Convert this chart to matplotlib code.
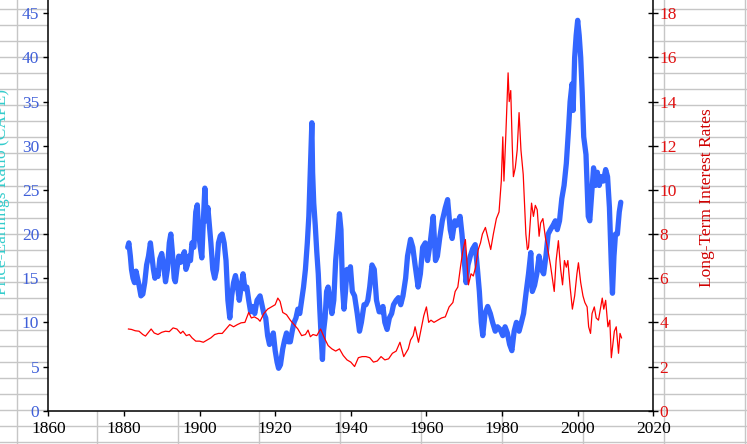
import numpy as np
import matplotlib
matplotlib.use("Agg")
import matplotlib.pyplot as plt

plt.rcParams['font.family'] = ['Liberation Serif', 'DejaVu Serif']

# ---- data ----
cape_years = [1881.0, 1881.3, 1881.7, 1882.0, 1882.4, 1882.8, 1883.2, 1883.6, 1884.0, 1884.5,
              1885.0, 1885.5, 1886.0, 1886.5, 1887.0, 1887.4, 1887.8, 1888.2, 1888.6, 1889.0,
              1889.5, 1890.0, 1890.5, 1891.0, 1891.5, 1892.0, 1892.4, 1892.8, 1893.3, 1893.6,
              1894.0, 1894.5, 1895.0, 1895.5, 1896.0, 1896.4, 1896.8, 1897.2, 1897.6, 1898.0,
              1898.5, 1899.0, 1899.4, 1899.8, 1900.2, 1900.6, 1901.0, 1901.4, 1901.8, 1902.2,
              1902.6, 1903.0, 1903.5, 1904.0, 1904.5, 1905.0, 1905.5, 1906.0, 1906.5, 1907.0,
              1907.5, 1908.0, 1908.5, 1909.0, 1909.5, 1910.0, 1910.5, 1911.0, 1911.5, 1912.0,
              1912.5, 1913.0, 1913.5, 1914.0, 1914.6, 1915.2, 1916.0, 1916.5, 1917.0, 1917.5,
              1918.0, 1918.5, 1919.0, 1919.5, 1920.0, 1920.5, 1920.9, 1921.4, 1922.0, 1922.5,
              1923.0, 1923.5, 1924.0, 1924.5, 1925.0, 1925.5, 1926.0, 1926.5, 1927.0, 1927.5,
              1928.0, 1928.5, 1928.9, 1929.3, 1929.7, 1929.9, 1930.2, 1930.6, 1931.0, 1931.4,
              1931.8, 1932.2, 1932.5, 1932.8, 1933.2, 1933.6, 1934.0, 1934.5, 1935.0, 1935.5,
              1936.0, 1936.5, 1937.0, 1937.4, 1937.8, 1938.2, 1938.6, 1939.0, 1939.4, 1939.9,
              1940.4, 1941.0, 1941.7, 1942.3, 1942.8, 1943.5, 1944.0, 1944.5, 1945.0, 1945.6,
              1946.2, 1946.8, 1947.5, 1948.0, 1948.5, 1949.0, 1949.6, 1950.2, 1950.8, 1951.3,
              1952.0, 1952.6, 1953.2, 1953.8, 1954.5, 1955.0, 1955.8, 1956.4, 1957.0, 1957.8,
              1958.4, 1959.0, 1959.7, 1960.3, 1961.0, 1961.8, 1962.4, 1962.9, 1963.5, 1964.2,
              1965.0, 1965.6, 1966.3, 1966.8, 1967.5, 1968.0, 1968.9, 1969.4, 1970.0, 1970.5,
              1971.0, 1971.6, 1972.2, 1972.9, 1973.5, 1974.0, 1974.5, 1974.9, 1975.5, 1976.2,
              1976.9, 1977.5, 1978.2, 1978.8, 1979.5, 1980.2, 1980.8, 1981.4, 1982.0, 1982.6,
              1983.2, 1983.8, 1984.5, 1985.0, 1985.7, 1986.4, 1987.0, 1987.6, 1988.0, 1988.6,
              1989.2, 1989.8, 1990.4, 1991.0, 1991.6, 1992.2, 1992.8, 1993.5, 1994.1, 1994.6,
              1995.2, 1995.8, 1996.4, 1997.0, 1997.6, 1998.0, 1998.5, 1998.8, 1999.2, 1999.6,
              2000.0, 2000.4, 2000.8, 2001.2, 2001.6, 2002.2, 2002.8, 2003.2, 2003.8, 2004.2,
              2004.7, 2005.2, 2005.7, 2006.2, 2006.8, 2007.4, 2007.9, 2008.4, 2008.9, 2009.2,
              2009.6, 2010.0, 2010.5, 2011.0, 2011.4]
cape_values = [18.5, 19.0, 17.5, 16.0, 15.0, 14.5, 15.8, 15.0, 14.2, 13.0,
               13.2, 14.5, 16.5, 17.5, 19.0, 17.5, 16.0, 15.0, 15.8, 15.2,
               17.2, 17.8, 16.5, 14.6, 16.0, 19.0, 20.0, 18.0, 15.0, 14.6,
               16.0, 17.5, 16.8, 17.5, 18.0, 16.0, 16.5, 17.5, 17.0, 19.0,
               18.5, 22.5, 23.3, 20.0, 18.5, 17.3, 21.5, 25.2, 21.5, 23.0,
               21.0, 19.0, 16.0, 15.0, 16.0, 19.0, 19.8, 20.0, 19.0, 17.0,
               12.5, 10.5, 13.0, 14.5, 15.3, 14.2, 12.5, 14.0, 15.5, 13.8,
               14.0, 12.5, 11.2, 11.8, 11.0, 12.5, 13.0, 12.0, 11.0, 10.5,
               8.5, 7.5, 8.0, 8.8, 6.8, 5.5, 4.8, 5.2, 7.0, 8.0,
               8.8, 7.8, 7.8, 9.0, 10.0, 10.5, 11.5, 11.0, 12.5, 14.0,
               16.0, 19.0, 22.0, 27.5, 32.6, 27.0, 23.5, 21.0, 18.0, 15.5,
               11.5, 8.0, 5.8, 9.0, 10.5, 13.5, 14.0, 12.5, 11.0, 12.5,
               17.0, 19.5, 22.3, 20.5, 14.0, 11.5, 13.5, 16.0, 15.0, 16.3,
               13.5, 13.0, 11.0, 9.0, 10.0, 12.0, 12.0, 12.5, 14.0, 16.5,
               16.0, 12.5, 11.2, 11.2, 11.8, 10.0, 9.2, 10.5, 11.0, 12.0,
               12.5, 12.8, 12.0, 13.0, 15.0, 17.5, 19.4, 18.5, 16.5, 14.0,
               15.5, 18.5, 19.0, 17.0, 19.0, 22.0, 17.0, 17.5, 19.5, 21.5,
               23.0, 23.9, 20.5, 19.5, 21.5, 21.0, 22.0, 20.0, 17.0, 14.5,
               16.5, 17.5, 18.3, 18.8, 16.0, 13.5, 10.0, 8.5, 11.0, 11.8,
               11.0, 10.0, 9.0, 9.5, 9.2, 8.5, 9.5, 8.8, 7.5, 6.8,
               9.0, 10.0, 9.0, 9.8, 11.0, 13.5, 15.5, 17.9, 13.5, 14.2,
               15.5, 17.5, 16.0, 15.5, 17.5, 20.0, 20.5, 21.0, 21.5, 20.5,
               21.5, 24.0, 25.5, 28.0, 32.0, 35.0, 37.0, 34.0, 40.0, 42.5,
               44.2, 42.5, 40.0, 36.0, 31.0, 29.0, 22.0, 21.5, 25.0, 27.5,
               25.5, 27.0, 25.5, 26.5, 26.0, 27.3, 26.5, 23.0, 16.5, 13.3,
               17.5, 20.0, 20.0, 22.5, 23.6]

rate_years = [1881.2, 1882, 1883, 1884, 1885, 1885.7, 1886.5, 1887.2, 1888, 1889,
              1890, 1891, 1892, 1893, 1894, 1895, 1895.6, 1896.5, 1897.3, 1898,
              1899, 1900, 1901, 1902, 1903, 1904, 1905, 1906, 1907, 1908,
              1909, 1910, 1911, 1912, 1913, 1913.7, 1914.5, 1915.5, 1916, 1917,
              1918, 1919, 1920, 1920.7, 1921.3, 1922, 1923, 1924, 1925, 1926,
              1927, 1928, 1928.7, 1929.3, 1930, 1931, 1932, 1933, 1934, 1935,
              1936, 1937, 1938, 1939, 1940, 1941, 1942, 1943, 1944, 1945,
              1946, 1947, 1948, 1949, 1950, 1951, 1952, 1953, 1954, 1955.2,
              1955.8, 1956.5, 1957, 1957.9, 1958.6, 1959.3, 1960, 1960.6, 1961.2, 1962,
              1963, 1964, 1965, 1966, 1967, 1967.6, 1968.3, 1969, 1969.6, 1970.3,
              1970.7, 1971.1, 1971.8, 1972.4, 1973, 1973.7, 1974.3, 1974.8, 1975.6, 1976.3,
              1977, 1977.7, 1978.5, 1979.2, 1979.8, 1980.2, 1980.5, 1981, 1981.6, 1981.9,
              1982.3, 1982.7, 1983, 1983.5, 1984, 1984.5, 1985, 1985.6, 1986.3, 1986.7,
              1987, 1987.8, 1988.3, 1988.8, 1989.3, 1989.8, 1990.2, 1990.8, 1991.5, 1992,
              1992.8, 1993.3, 1993.8, 1994.3, 1994.9, 1995.5, 1996, 1996.5, 1997, 1997.4,
              1998, 1998.6, 1999.2, 1999.8, 2000.2, 2000.8, 2001.4, 2001.9, 2002.5, 2002.9,
              2003.4, 2003.8, 2004.4, 2004.9, 2005.5, 2006, 2006.5, 2006.9, 2007.4, 2008,
              2008.5, 2008.9, 2009.3, 2009.7, 2010.2, 2010.8, 2011.2, 2011.6]
rate_values = [3.70, 3.68, 3.62, 3.60, 3.45, 3.38, 3.55, 3.70, 3.52, 3.45,
               3.55, 3.60, 3.58, 3.75, 3.70, 3.50, 3.60, 3.40, 3.45, 3.30,
               3.15, 3.15, 3.10, 3.20, 3.30, 3.45, 3.50, 3.50, 3.70, 3.90,
               3.80, 3.90, 3.98, 4.00, 4.45, 4.20, 4.25, 4.15, 4.05, 4.40,
               4.60, 4.70, 4.80, 5.10, 4.95, 4.45, 4.35, 4.10, 3.90, 3.70,
               3.40, 3.45, 3.65, 3.35, 3.45, 3.40, 3.70, 3.30, 2.95, 2.80,
               2.70, 2.80, 2.50, 2.30, 2.20, 2.00, 2.40, 2.45, 2.45, 2.40,
               2.20, 2.25, 2.45, 2.30, 2.35, 2.60, 2.70, 3.10, 2.45, 2.80,
               3.20, 3.40, 3.80, 3.10, 3.70, 4.30, 4.70, 4.00, 4.10, 4.00,
               4.10, 4.20, 4.25, 4.70, 4.90, 5.40, 5.60, 6.50, 7.20, 7.75,
               6.80, 5.70, 6.20, 6.10, 6.50, 7.30, 7.60, 8.00, 8.30, 7.80,
               7.30, 8.00, 8.70, 9.00, 10.40, 12.40, 10.40, 12.50, 15.30, 14.00,
               14.50, 12.00, 10.60, 11.00, 11.80, 13.50, 11.80, 10.70, 8.00, 7.30,
               7.40, 9.40, 8.80, 9.30, 9.10, 7.90, 8.50, 8.70, 7.80, 7.40,
               6.60, 6.00, 5.40, 6.80, 7.70, 6.40, 5.70, 6.80, 6.50, 6.80,
               5.60, 4.60, 5.20, 6.20, 6.70, 5.80, 5.20, 4.90, 4.70, 3.80,
               3.50, 4.40, 4.70, 4.20, 4.10, 4.60, 5.10, 4.60, 5.00, 3.80,
               4.10, 2.40, 3.00, 3.60, 3.80, 2.60, 3.50, 3.30]

x_ticks = [1860, 1880, 1900, 1920, 1940, 1960, 1980, 2000, 2020]
left_ticks = [0, 5, 10, 15, 20, 25, 30, 35, 40, 45]
right_ticks = [0, 2, 4, 6, 8, 10, 12, 14, 16, 18]

left_label = "Price-Earnings Ratio (CAPE)"
right_label = "Long-Term Interest Rates"

# ---- figure ----
W, H = 747, 444
fig = plt.figure(figsize=(W / 100, H / 100), dpi=100)

# spreadsheet-like cell grid behind everything
bg = fig.add_axes([0, 0, 1, 1], zorder=0)
bg.set_xlim(0, W)
bg.set_ylim(H, 0)
bg.set_xticks(np.arange(16.5, W, 80.9))
bg.set_yticks(np.arange(9.3, H, 16.02))
bg.grid(True, color='#c6c6c6', linewidth=1.0)
bg.tick_params(length=0, labelleft=False, labelbottom=False)
for s in bg.spines.values():
    s.set_visible(False)
bg.set_facecolor('white')

left_px, right_px, bottom_px = 48.3, 653.3, 410.7
ax = fig.add_axes([left_px / W, (H - bottom_px) / H, (right_px - left_px) / W, bottom_px / H], zorder=1)
ax.set_facecolor('white')
ax2 = ax.twinx()

blue = '#3366ff'
red = '#ff0000'

ax.plot(cape_years, cape_values, color=blue, linewidth=3.8, solid_joinstyle='round', solid_capstyle='round')
ax2.plot(rate_years, rate_values, color=red, linewidth=0.9)

ymax_left = 46.5
ax.set_xlim(1860, 2020)
ax.set_ylim(0, ymax_left)
ax2.set_ylim(0, ymax_left / 2.5)

ax.set_xticks(x_ticks)
ax.set_yticks(left_ticks)
ax2.set_yticks(right_ticks)

ax.spines['top'].set_visible(False)
ax2.spines['top'].set_visible(False)
ax2.spines['left'].set_visible(False)
ax.spines['right'].set_visible(False)
for sp in [ax.spines['left'], ax.spines['bottom'], ax2.spines['right']]:
    sp.set_color('black')
    sp.set_linewidth(1.1)
ax2.spines['bottom'].set_visible(False)

ax.tick_params(axis='x', direction='out', length=3.5, width=1, colors='black', labelsize=12.5, pad=4)
ax.tick_params(axis='y', direction='out', length=3.5, width=1, color='black', labelcolor='#3f5fd8', labelsize=12.5, pad=3)
ax2.tick_params(axis='y', direction='inout', length=7, width=1, color='black', labelcolor='#e01010', labelsize=12.5, pad=1)

fig.text(707 / W, 1 - 198 / H, right_label, rotation=90, ha='center', va='center',
         color='#d00000', fontsize=12.5)
fig.text(2 / W, 1 - 192 / H, left_label, rotation=90, ha='center', va='center',
         color='#33cccc', fontsize=12.5)

fig.savefig('out.png', dpi=100)
